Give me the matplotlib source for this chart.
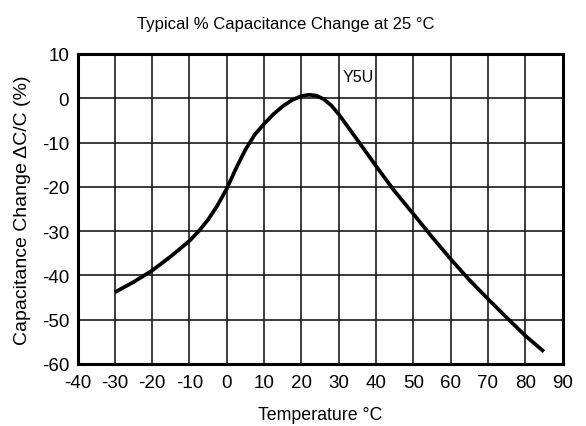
import numpy as np
import matplotlib.pyplot as plt

plt.rcParams['font.family'] = ['Liberation Sans', 'DejaVu Sans']
plt.rcParams['axes.unicode_minus'] = False

# Y5U curve
temp = [-30, -25, -20, -15, -10, -7.5, -5, -2.5, 0, 2.5, 5, 7.5, 10, 12.5, 15, 17.5, 20, 22,
        24, 26, 28, 30, 35, 40, 45, 50, 55, 60, 65, 70, 75, 80, 85]
cap_change = [-43.8, -41.5, -38.9, -35.7, -32.2, -30.0, -27.4, -24.2, -20.4, -15.8, -11.6,
              -8.2, -5.8, -3.6, -1.8, -0.4, 0.5, 0.8, 0.6, -0.2, -1.6, -3.6, -9.4, -15.3,
              -21.0, -26.1, -31.3, -36.3, -41.0, -45.3, -49.5, -53.6, -57.2]

xticks = np.arange(-40, 91, 10)
yticks = np.arange(-60, 11, 10)

fig = plt.figure(figsize=(5.86, 4.27), dpi=100)
ax = fig.add_axes([0.1323, 0.1452, 0.8277, 0.726])

ax.plot(temp, cap_change, color='black', lw=2.7, solid_capstyle='butt', solid_joinstyle='round')
ax.text(31, 5, 'Y5U', fontsize=11.5, va='center', ha='left')

ax.set_xlim(-40, 90)
ax.set_ylim(-60, 10)
ax.set_xticks(xticks)
ax.set_yticks(yticks)
ax.grid(True, color='#1a1a1a', lw=1.2)
ax.tick_params(length=0, labelsize=13.5, pad=7)
ax.tick_params(axis='y', pad=6)
for s in ax.spines.values():
    s.set_linewidth(2.2)

fig.text(0.488, 1 - 24 / 427, 'Typical % Capacitance Change at 25 °C', fontsize=12,
         ha='center', va='center')
ax.set_xlabel('Temperature °C', fontsize=12.8, labelpad=11)
ax.set_ylabel('Capacitance Change ΔC/C (%)', fontsize=14, labelpad=8)

fig.savefig('out.png', dpi=100)
